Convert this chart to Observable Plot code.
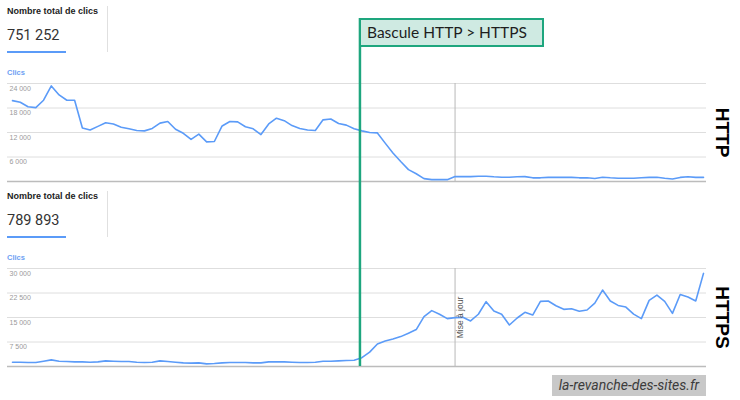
<!DOCTYPE html>
<html>
<head>
<meta charset="utf-8">
<script src="https://cdn.jsdelivr.net/npm/d3@7"></script>
<script src="https://cdn.jsdelivr.net/npm/@observablehq/plot@0.6"></script>
<style>
  body { margin: 0; background: #fff; }
  #wrap { position: relative; width: 740px; height: 400px; overflow: hidden; background: #fff; font-family: "Liberation Sans", Arial, sans-serif; }
  .abs { position: absolute; white-space: nowrap; }
  .hdr { font-size: 9px; font-weight: bold; color: #222; }
  .total { font-family: Roboto, sans-serif; font-size: 14.5px; color: #333; }
  .uline { height: 2px; background: #5b9bf8; }
  .divider { width: 1px; background: #e0e0e0; }
  .clics { font-size: 7.5px; font-weight: bold; color: #6d9ff3; }
  .chart { position: absolute; left: 0; }
  #box { left: 359px; top: 18px; width: 175px; height: 25px; border: 2px solid #1ea67e; background: #cfeae2;
         font-family: Lato, sans-serif; font-size: 15.5px; color: #1e1e1e; line-height: 25px; padding-left: 6px; box-sizing: content-box; }
  #credit { left: 552px; top: 375px; width: 154px; height: 21px; background: #c8c8c8; font-family: Roboto, sans-serif;
            font-style: italic; font-size: 14px; color: #3c3c3c; text-align: center; line-height: 21px; }
</style>
</head>
<body>
<div id="wrap"></div>
<script>
// ---- data ----
const days = d3.range(90);
const httpClicks = [
  19800, 19400, 18300, 18100, 19900, 23400, 21200, 19900, 19900, 13100,
  12600, 13500, 14400, 14100, 13300, 12900, 12500, 12400, 13000, 14300,
  14700, 12800, 11800, 10300, 11600, 9700, 9800, 13600, 14700, 14600,
  13400, 12900, 11500, 14100, 15500, 14900, 13700, 13000, 12600, 12500,
  15100, 15300, 14200, 13800, 12900, 12400, 12000, 11900, 9400, 7000,
  4900, 2900, 1900, 700, 450, 450, 450, 1200, 1200, 1200,
  1300, 1300, 1150, 1050, 1050, 1150, 1200, 900, 900, 1000,
  1000, 1000, 1000, 900, 900, 750, 1050, 900, 800, 800,
  800, 900, 1000, 1050, 800, 600, 1000, 1150, 1000, 1000
];
const httpsClicks = [
  1320, 1320, 1220, 1220, 1630, 2030, 1630, 1530, 1420, 1420,
  1320, 1420, 1730, 1630, 1530, 1530, 1320, 1220, 1320, 1730,
  1530, 1320, 1120, 1020, 1120, 810, 920, 1120, 1220, 1220,
  1220, 1120, 1120, 1420, 1420, 1420, 1320, 1220, 1220, 1320,
  1630, 1630, 1730, 1830, 1930, 2700, 4400, 6900, 7800, 8400,
  9150, 10200, 11300, 15250, 17100, 16000, 14650, 14950, 15050, 13950,
  16000, 19850, 17000, 16000, 12700, 14850, 16600, 15750, 19950, 20050,
  18600, 17500, 17700, 16900, 17300, 19400, 23400, 20050, 18700, 18200,
  16050, 14650, 20250, 21850, 19950, 16250, 22050, 21250, 20050, 28500
];
const httpTicks = [6000, 12000, 18000, 24000];
const httpsTicks = [7500, 15000, 22500, 30000];
const httpTotal = "751 252";
const httpsTotal = "789 893";
const totalLabel = "Nombre total de clics";
const yLabel = "Clics";
const switchDay = 44.75;   // Bascule HTTP > HTTPS
const updateDay = 57;      // Mise à jour
const switchText = "Bascule HTTP > HTTPS";
const updateText = "Mise à jour";
const credit = "la-revanche-des-sites.fr";

const fmt = d3.formatLocale({decimal: ",", thousands: " ", grouping: [3], currency: ["", "€"]}).format(",");

const wrap = document.getElementById("wrap");
function div(cls, style, text) {
  const d = document.createElement("div");
  d.className = "abs " + cls;
  Object.assign(d.style, style);
  if (text != null) d.textContent = text;
  wrap.appendChild(d);
  return d;
}

function chart(values, ticks, yMax, name, height, greenTop, greenBottom, withUpdateLabel) {
  const data = days.map((d, i) => ({day: d, clicks: values[i]}));
  const marks = [
    Plot.ruleY(ticks, {stroke: "#dedede", strokeWidth: 1, insetLeft: -5, insetRight: -3}),
    Plot.axisY({ticks, anchor: "left", tickSize: 0, tickPadding: 3, textAnchor: "start", dy: 5,
                tickFormat: fmt, fontSize: 7, fill: "#9a9a9a", label: null}),
    Plot.ruleY([0], {stroke: "#bcbcbc", strokeWidth: 1.5, insetLeft: -5, insetRight: -3}),
    Plot.ruleX([updateDay], {stroke: "#b8b8b8", strokeWidth: 1}),
    Plot.line(data, {x: "day", y: "clicks", stroke: "#5b9bf8", strokeWidth: 1.6}),
    Plot.ruleX([switchDay], {stroke: "#1ea67e", strokeWidth: 2.5, insetTop: -greenTop, insetBottom: -greenBottom}),
    Plot.text([name], {frameAnchor: "right", textAnchor: "middle", dx: 19, rotate: 90, fontSize: 19, fontWeight: "bold",
                       fill: "#000", fontFamily: "Liberation Sans, Arial, sans-serif"})
  ];
  if (withUpdateLabel) {
    marks.push(Plot.text([{day: updateDay, label: updateText}], {x: "day", text: "label", rotate: -90, dx: 5,
                         textAnchor: "middle", fontSize: 8.5, fill: "#555"}));
  }
  return Plot.plot({
    width: 740, height,
    marginTop: 83, marginBottom: height - 181, marginLeft: 12, marginRight: 37,
    x: {domain: [0, 89], axis: null},
    y: {domain: [0, yMax], axis: null},
    style: {overflow: "visible", background: "transparent", fontFamily: "Liberation Sans, Arial, sans-serif"},
    marks
  });
}

const c1 = chart(httpClicks, httpTicks, 24000, "HTTP", 185, 65, 4, false);
c1.classList.add("chart"); c1.style.top = "0px";
wrap.appendChild(c1);
const c2 = chart(httpsClicks, httpsTicks, 30000, "HTTPS", 215, 83, 0, true);
c2.classList.add("chart"); c2.style.top = "185px";
wrap.appendChild(c2);

// headers
[[0, httpTotal], [185, httpsTotal]].forEach(([off, total]) => {
  div("hdr", {left: "7px", top: (off + 6) + "px"}, totalLabel);
  div("total", {left: "7px", top: (off + 27) + "px"}, total);
  div("uline", {left: "7px", top: (off + 50.5) + "px", width: "59px"});
  div("divider", {left: "107px", top: (off + 6) + "px", height: "46px"});
  div("clics", {left: "7px", top: (off + 68) + "px"}, yLabel);
});

div("", {}, switchText).id = "box";
div("", {}, credit).id = "credit";
</script>
</body>
</html>
